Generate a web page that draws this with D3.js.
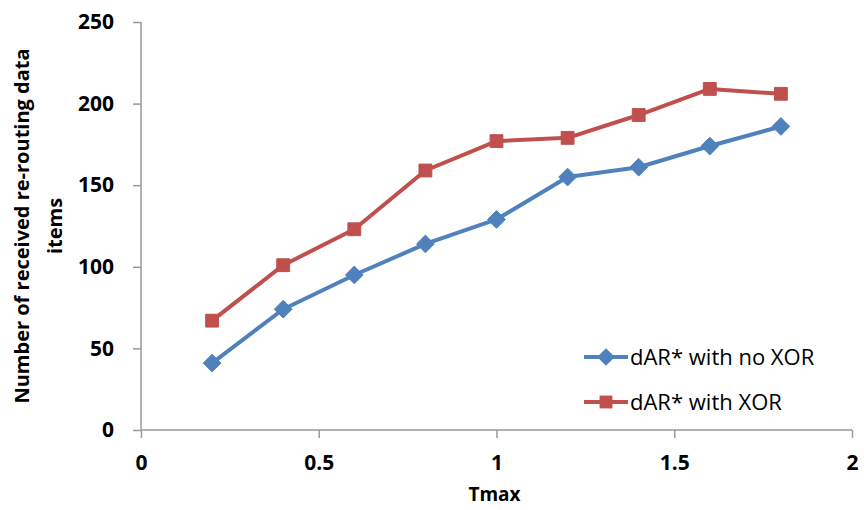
<!DOCTYPE html>
<html>
<head>
<meta charset="utf-8">
<script src="https://cdn.jsdelivr.net/npm/d3@7"></script>
<style>
body { margin:0; background:#fff; }
text { font-family: "Open Sans", "Liberation Sans", sans-serif; }
</style>
</head>
<body>
<div class="chart"></div>
<script>
// data
var tmax = [0.2, 0.4, 0.6, 0.8, 1.0, 1.2, 1.4, 1.6, 1.8];
var noXor = [41, 74, 95, 114, 129, 155, 161, 174, 186];
var withXor = [67, 101, 123, 159, 177, 179, 193, 209, 206];
var seriesNames = ["dAR* with no XOR", "dAR* with XOR"];
var xTicks = [0, 0.5, 1, 1.5, 2];
var yTicks = [0, 50, 100, 150, 200, 250];

var svgWidth = 864;
var svgHeight = 510;
var margin = {top: 22, right: 12, bottom: 80, left: 141};
var width = svgWidth - margin.left - margin.right;
var height = svgHeight - margin.top - margin.bottom;

var svg = d3.select(".chart")
  .append("svg")
  .attr("width", svgWidth)
  .attr("height", svgHeight);

var chart = svg.append("g")
  .attr("transform", "translate(" + margin.left + "," + margin.top + ")");

var x = d3.scaleLinear().domain([0, 2]).range([0, width]);
var y = d3.scaleLinear().domain([0, 250]).range([height, 0]);

var axisColor = "#9a9a9a";

// y axis
var yAxis = chart.append("g")
  .call(d3.axisLeft(y).tickValues(yTicks).tickSize(8).tickPadding(19).tickFormat(d3.format("d")));
yAxis.select(".domain").attr("stroke", axisColor).attr("stroke-width", 1.5).attr("d", "M0," + height + "V0");
yAxis.selectAll(".tick line").attr("stroke", axisColor).attr("stroke-width", 1.5);
yAxis.selectAll(".tick text")
  .attr("font-size", 21).attr("font-weight", "bold").attr("fill", "#000")
  .attr("font-family", "'Open Sans', sans-serif");

// x axis
var xAxis = chart.append("g")
  .attr("transform", "translate(0," + height + ")")
  .call(d3.axisBottom(x).tickValues(xTicks).tickSize(8).tickPadding(17).tickFormat(function(d){ return d; }));
xAxis.select(".domain").attr("stroke", axisColor).attr("stroke-width", 1.5).attr("d", "M0,0H" + width);
xAxis.selectAll(".tick line").attr("stroke", axisColor).attr("stroke-width", 1.5);
xAxis.selectAll(".tick text")
  .attr("font-size", 21).attr("font-weight", "bold").attr("fill", "#000")
  .attr("font-family", "'Open Sans', sans-serif");

// axis titles
svg.append("text")
  .attr("x", margin.left + x(1) - 2)
  .attr("y", 501)
  .attr("text-anchor", "middle")
  .attr("font-size", 19).attr("font-weight", "bold")
  .text("Tmax");

var yTitle = svg.append("text")
  .attr("transform", "translate(29,226) rotate(-90)")
  .attr("text-anchor", "middle")
  .attr("font-size", 20).attr("font-weight", "bold");
yTitle.append("tspan").attr("x", 0).attr("y", 0).text("Number of received re-routing data");
yTitle.append("tspan").attr("x", 0).attr("y", 33).text("items");

var colors = ["#4F81BD", "#C0504D"];
var allSeries = [noXor, withXor];
var symTypes = [d3.symbolDiamond2, d3.symbolSquare2];
var symSizes = [200, 210];

var line = d3.line()
  .x(function(d, i){ return x(tmax[i]); })
  .y(function(d){ return y(d); });

allSeries.forEach(function(vals, s) {
  chart.append("path")
    .datum(vals)
    .attr("fill", "none")
    .attr("stroke", colors[s])
    .attr("stroke-width", 4)
    .attr("stroke-linejoin", "round")
    .attr("d", line);

  chart.selectAll(".m" + s)
    .data(vals)
    .enter().append("path")
    .attr("class", "m" + s)
    .attr("transform", function(d, i){ return "translate(" + x(tmax[i]) + "," + y(d) + ")"; })
    .attr("d", d3.symbol().type(symTypes[s]).size(symSizes[s]))
    .attr("fill", colors[s])
    .attr("stroke", colors[s])
    .attr("stroke-width", 1);
});

// legend
var legend = svg.append("g");
seriesNames.forEach(function(name, s) {
  var ly = 357 + s * 45;
  legend.append("line")
    .attr("x1", 584).attr("x2", 628)
    .attr("y1", ly).attr("y2", ly)
    .attr("stroke", colors[s]).attr("stroke-width", 4);
  legend.append("path")
    .attr("transform", "translate(606," + ly + ")")
    .attr("d", d3.symbol().type(symTypes[s]).size(symSizes[s]))
    .attr("fill", colors[s]);
  legend.append("text")
    .attr("x", 630).attr("y", ly)
    .attr("dy", "0.35em")
    .attr("font-size", 22)
    .attr("fill", "#000")
    .text(name);
});
</script>
</body>
</html>
